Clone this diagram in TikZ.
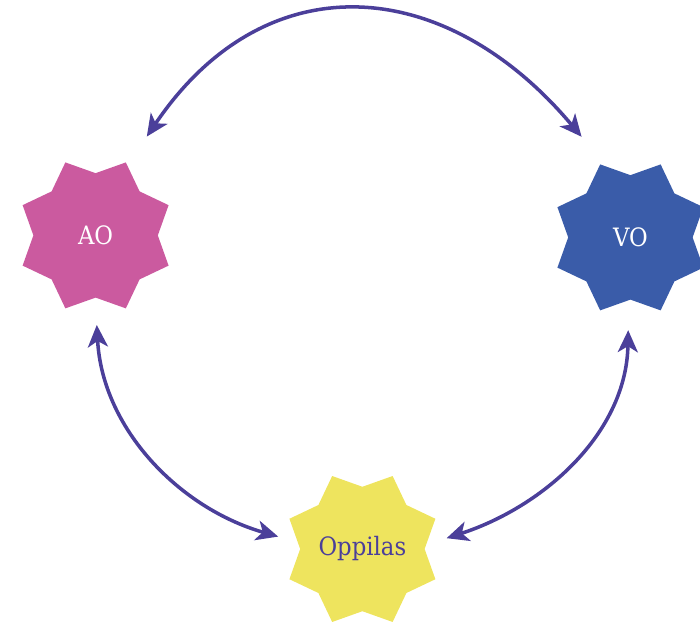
\documentclass[tikz,border=0pt]{standalone}
\usepackage{fontspec}
\setmainfont{DejaVu Serif}[FakeStretch=0.9]
\usetikzlibrary{calc}
\usetikzlibrary{arrows.meta}
\usetikzlibrary{shapes.geometric}
\definecolor{aopink}{HTML}{CB5A9F}
\definecolor{voblue}{HTML}{3A5CA9}
\definecolor{oppyellow}{HTML}{EEE45E}
\definecolor{linkblue}{HTML}{4B3F9A}

\begin{document}
\begin{tikzpicture}[
    starnode/.style={star, star points=8, star point ratio=1.27,
      shape border rotate=22.5, minimum size=3.95cm, inner sep=0pt,
      font=\fontsize{18}{20}\selectfont},
    link/.style={draw=linkblue, line width=2.5pt,
      {Stealth[length=5.5mm,width=5mm,inset=1.5mm]}-{Stealth[length=5.5mm,width=5mm,inset=1.5mm]}}
  ]
    \path[use as bounding box] (0,0) rectangle (17.5,15.625);
    % Stars.
    \node[starnode, fill=aopink, text=white] (ao) at (2.39,9.74) {AO};
    \node[starnode, fill=voblue, text=white] (vo) at (15.76,9.69) {VO};
    \node[starnode, fill=oppyellow, text=linkblue] (opp) at (9.06,1.9) {Oppilas};
    % Arrow ends.
    \coordinate (ao-top) at ($ (ao) + (1.28,2.47) $);
    \coordinate (ao-bot) at ($ (ao) + (0.03,-2.24) $);
    \coordinate (vo-top) at ($ (vo) + (-1.22,2.515) $);
    \coordinate (vo-bot) at ($ (vo) + (-0.055,-2.32) $);
    \coordinate (opp-left) at ($ (opp) + (-2.105,0.31) $);
    \coordinate (opp-right) at ($ (opp) + (2.105,0.27) $);
    % Arrows.
    \draw[link] (ao-top) to[out=56,in=130,looseness=1.25] (vo-top);
    \draw[link] (ao-bot) to[out=-87,in=164,looseness=0.95] (opp-left);
    \draw[link] (vo-bot) to[out=-91,in=18,looseness=0.95] (opp-right);
  \end{tikzpicture}
\end{document}
